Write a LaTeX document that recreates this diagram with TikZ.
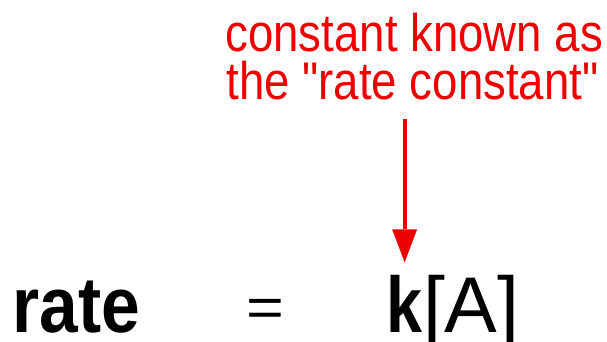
\documentclass[tikz,border=0pt]{standalone}
\usepackage{fontspec}
\setmainfont{Liberation Sans}[Ligatures=TeXOff]
\usetikzlibrary{arrows.meta}
\definecolor{redtxt}{RGB}{238,0,0}
\begin{document}
\begin{tikzpicture}[x=1pt,y=-1pt,
  lbl/.style={inner sep=0pt,outer sep=0pt,anchor=base west},
  redlbl/.style={lbl,text=redtxt,font=\fontsize{53}{53}\selectfont},
  eqlbl/.style={lbl,font=\fontsize{79}{79}\selectfont},
  ptr/.style={draw=redtxt,line width=4pt,-{Triangle[width=25pt,length=33pt,line width=0pt]}}]
\useasboundingbox (0,0) rectangle (607,342);
\node[redlbl] (line1) at (225.5,52) {\scalebox{0.86}[1]{constant known as}};
\node[redlbl] (line2) at (226.5,100) {\scalebox{0.86}[1]{the "rate constant"}};
\node[eqlbl] (rate) at (12.5,332) {\scalebox{0.88}[1]{\bfseries rate}};
\node[eqlbl,anchor=center] (eq) at (265,312.7) {\scalebox{0.82}[0.7]{=}};
\node[eqlbl] (k) at (386.6,332) {\scalebox{0.82}[1]{\bfseries k}};
\node[eqlbl] (brA) at (423,332) {[A]};
\draw[ptr, shorten <=18pt, shorten >=12.4pt] (k.north |- line2.south) -- (k.north);
\end{tikzpicture}
\end{document}
